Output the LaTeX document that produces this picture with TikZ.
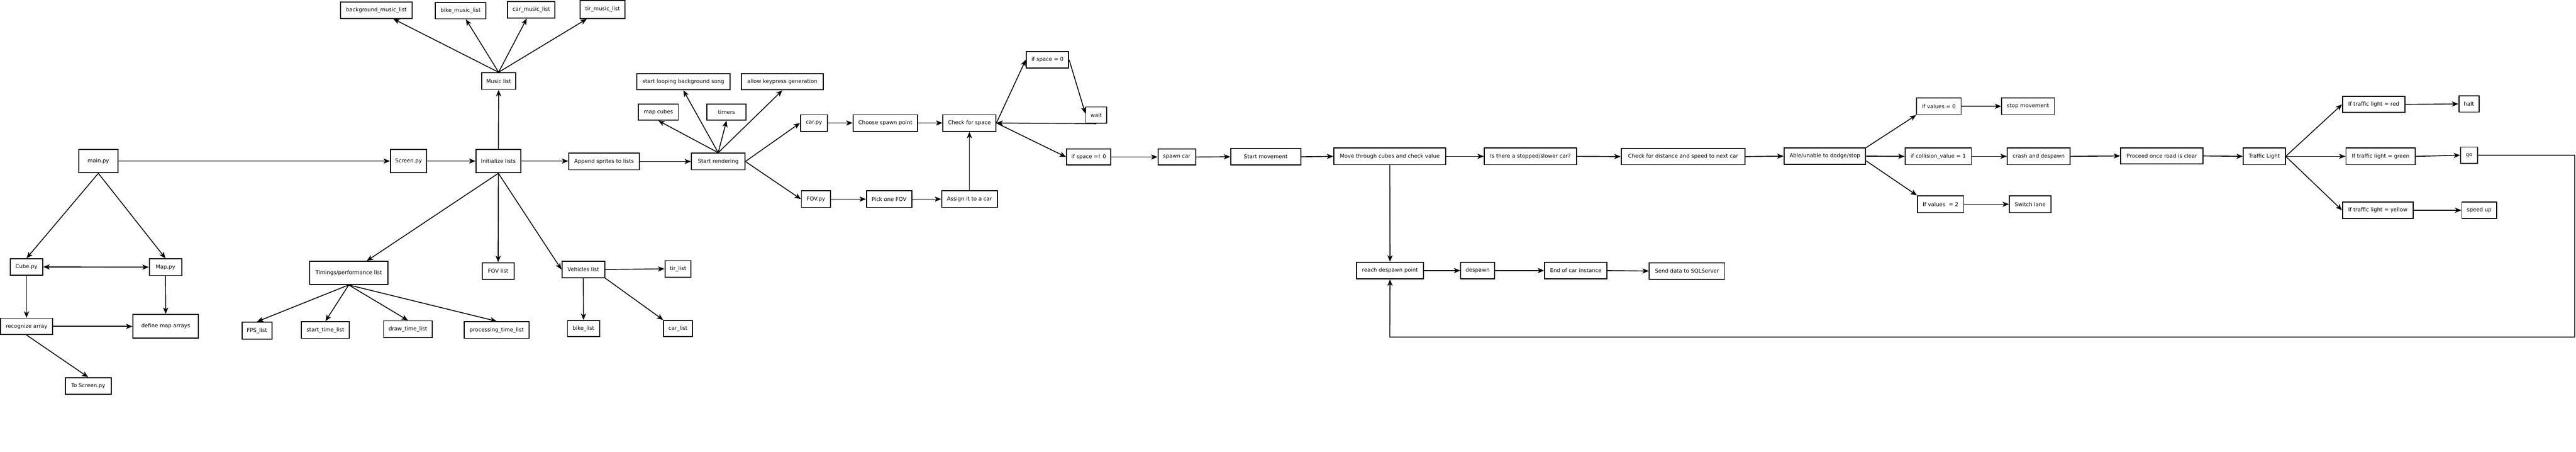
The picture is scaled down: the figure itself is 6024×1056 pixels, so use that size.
\documentclass[tikz,border=0pt]{standalone}
\usepackage{fontspec}
\setmainfont{DejaVu Sans}
\usetikzlibrary{arrows.meta}
\tikzset{
  box/.style={draw=black, line width=2.2pt, fill=white, inner sep=0pt, align=center,
    font=\fontsize{12.5}{15}\selectfont},
  arr/.style={line width=2pt, -{Stealth[length=15pt,width=12pt,inset=4pt]}},
  darr/.style={line width=2pt, {Stealth[length=15pt,width=12pt,inset=4pt]}-{Stealth[length=15pt,width=12pt,inset=4pt]}},
  plain/.style={line width=2pt}
}
\newcommand{\bx}[6]{\node[box, minimum width={(#3-#2)*1pt}, minimum height={(#5-#4)*1pt}] (#1) at ({(#2+#3)/2},{(#4+#5)/2}) {#6};}
\begin{document}
\begin{tikzpicture}[x=1pt,y=-1pt]
\useasboundingbox (0,0) rectangle (6024,1056);
% left part
\bx{main}{184}{276}{349}{404}{main.py}
\bx{screen}{913}{998}{349}{404}{Screen.py}
\bx{init}{1113}{1218}{349}{404}{Initialize lists}
\bx{append}{1330}{1495}{358}{397}{Append sprites to lists}
\bx{sr}{1617}{1742}{358}{397}{Start rendering}
\bx{music}{1126}{1206}{170}{209}{Music list}
\bx{bgm}{796}{964}{5}{43}{background\_music\_list}
\bx{bikem}{1018}{1136}{6}{44}{bike\_music\_list}
\bx{carm}{1187}{1298}{4}{42}{car\_music\_list}
\bx{tirm}{1357}{1461}{1}{43}{tir\_music\_list}
\bx{loop}{1489}{1707}{172}{210}{start looping background song}
\bx{keyp}{1734}{1925}{172}{210}{allow keypress generation}
\bx{mcubes}{1493}{1586}{243}{281}{map cubes}
\bx{timers}{1653}{1745}{243}{281}{timers}
\bx{carpy}{1872}{1935}{268}{307}{car.py}
\bx{choose}{1995}{2146}{268}{307}{Choose spawn point}
\bx{check}{2205}{2329}{268}{307}{Check for space}
\bx{ifz}{2400}{2499}{120}{159}{if space = 0}
\bx{wait}{2539}{2588}{250}{288}{wait}
\bx{ifnz}{2494}{2598}{348}{386}{if space =! 0}
\bx{spawn}{2708}{2796}{348}{386}{spawn car}
\bx{fovpy}{1874}{1942}{446}{485}{FOV.py}
\bx{pick}{2026}{2132}{446}{485}{Pick one FOV}
\bx{assign}{2202}{2332}{446}{485}{Assign it to a car}
\bx{startm}{2878}{3042}{347}{386}{Start movement}
\bx{move}{3119}{3381}{346}{385}{Move through cubes and check value}
\bx{isthere}{3471}{3687}{346}{385}{Is there a stopped/slower car?}
\bx{checkd}{3791}{4081}{347}{385}{Check for distance and speed to next car}
\bx{able}{4172}{4363}{346}{384}{Able/unable to dodge/stop}
\bx{ifvz}{4482}{4586}{229}{268}{if values = 0}
\bx{stopm}{4681}{4804}{229}{268}{stop movement}
\bx{ifcol}{4455}{4610}{346}{385}{if collision\_value = 1}
\bx{crash}{4694}{4841}{346}{385}{crash and despawn}
\bx{ifvt}{4484}{4592}{458}{497}{If values \ = 2}
\bx{switch}{4699}{4796}{458}{497}{Switch lane}
\bx{reach}{3172}{3329}{613}{652}{reach despawn point}
\bx{despawn}{3416}{3495}{613}{652}{despawn}
\bx{endc}{3612}{3758}{613}{652}{End of car instance}
\bx{send}{3857}{4033}{614}{653}{Send data to SQLServer}
\bx{proceed}{4959}{5152}{346}{383}{Proceed once road is clear}
\bx{tl}{5246}{5344}{346}{385}{Traffic Light}
\bx{red}{5478}{5624}{225}{263}{If traffic light = red}
\bx{halt}{5750}{5797}{224}{262}{halt}
\bx{green}{5486}{5648}{346}{385}{If traffic light = green}
\bx{go}{5754}{5794}{344}{382}{go}
\bx{yellow}{5478}{5643}{472}{511}{If traffic light = yellow}
\bx{speed}{5757}{5838}{472}{511}{speed up}
\bx{cube}{24}{100}{605}{643}{Cube.py}
\bx{map}{349}{425}{605}{644}{Map.py}
\bx{recog}{1}{123}{744}{782}{recognize array}
\bx{defmap}{311}{464}{735}{790}{define map arrays}
\bx{toscreen}{153}{260}{883}{922}{To Screen.py}
\bx{timings}{724}{907}{611}{665}{Timings/performance list}
\bx{fovlist}{1128}{1202}{614}{653}{FOV list}
\bx{vehicles}{1314}{1414}{611}{649}{Vehicles list}
\bx{tirl}{1555}{1616}{609}{648}{tir\_list}
\bx{fps}{566}{636}{753}{793}{FPS\_list}
\bx{stl}{705}{817}{752}{791}{start\_time\_list}
\bx{dtl}{897}{1011}{750}{789}{draw\_time\_list}
\bx{ptl}{1086}{1237}{752}{791}{processing\_time\_list}
\bx{bikel}{1327}{1402}{749}{787}{bike\_list}
\bx{carl}{1552}{1619}{749}{787}{car\_list}
% connectors
\draw[arr] (main.east) -- (screen.west);
\draw[arr] (main.south) -- (cube.north);
\draw[arr] (main.south) -- (map.north);
\draw[darr] (cube.east) -- (map.west);
\draw[arr] (cube.south) -- (recog.north);
\draw[arr] (map.south) -- (defmap.north);
\draw[arr] (recog.east) -- (defmap.west |- recog.east);
\draw[arr] (recog.south) -- (toscreen.north);
\draw[arr] (screen.east) -- (init.west);
\draw[arr] (init.east) -- (append.west |- init.east);
\draw[arr] (append.east) -- (sr.west);
\draw[arr] (init.north) -- (music.south);
\draw[arr] (music.north) -- (bgm);
\draw[arr] (music.north) -- (bikem);
\draw[arr] (music.north) -- (carm);
\draw[arr] (music.north) -- (tirm);
\draw[arr] (init.south) -- (timings);
\draw[arr] (init.south) -- (fovlist.north);
\draw[arr] (init.south) -- (vehicles.west);
\draw[arr] (timings.south) -- (fps.north);
\draw[arr] (timings.south) -- (stl.north);
\draw[arr] (timings.south) -- (dtl.north);
\draw[arr] (timings.south) -- (ptl.north);
\draw[arr] (vehicles.east) -- (tirl.west);
\draw[arr] (vehicles.south) -- (bikel.north);
\draw[arr] (vehicles.south east) -- (carl.north west);
\draw[arr] (sr.north) -- (mcubes.south);
\draw[arr] (sr.north) -- (loop.south);
\draw[arr] (sr.north) -- (timers.south);
\draw[arr] (sr.north) -- (keyp.south);
\draw[arr] (sr.east) -- (carpy.west);
\draw[arr] (sr.east) -- (fovpy.west);
\draw[arr] (carpy.east) -- (choose.west);
\draw[arr] (choose.east) -- (check.west);
\draw[arr] (fovpy.east) -- (pick.west);
\draw[arr] (pick.east) -- (assign.west);
\draw[arr] (assign.north) -- (check.south);
\draw[arr] (check.east) -- (ifz.west);
\draw[arr] (ifz.east) -- ([yshift=-16pt]wait.north west);
\draw[arr] (wait.south) -- (check.east);
\draw[arr] (check.east) -- (ifnz.west);
\draw[arr] (ifnz.east) -- (spawn.west);
\draw[arr] (spawn.east) -- (startm.west);
\draw[arr] (startm.east) -- (move.west);
\draw[arr] (move.east) -- (isthere.west);
\draw[arr] (isthere.east) -- (checkd.west);
\draw[arr] (checkd.east) -- (able.west);
\draw[arr] (able.north east) -- (ifvz.south west);
\draw[arr] (able.east) -- (ifcol.west);
\draw[arr] ([yshift=9pt]able.south east) -- (ifvt.north west);
\draw[arr] (ifvz.east) -- (stopm.west);
\draw[arr] (ifcol.east) -- (crash.west);
\draw[arr] (ifvt.east) -- (switch.west);
\draw[arr] (crash.east) -- (proceed.west);
\draw[arr] (proceed.east) -- (tl.west);
\draw[arr] (tl.east) -- (red.west);
\draw[arr] (tl.east) -- (green.west);
\draw[arr] (tl.east) -- (yellow.west);
\draw[arr] (red.east) -- (halt.west);
\draw[arr] (green.east) -- (go.west);
\draw[arr] (yellow.east) -- (speed.west);
\draw[arr] (move.south) -- (reach.north);
\draw[arr] (reach.east) -- (despawn.west);
\draw[arr] (despawn.east) -- (endc.west);
\draw[arr] (endc.east) -- (send.west);
\coordinate (fba) at (6021,363);
\coordinate (fbb) at (6021,788);
\coordinate (fbc) at (3250,788);
\draw[arr] (go.east) -- (fba) -- (fbb) -- (fbc) -- (reach.south);
\end{tikzpicture}
\end{document}
